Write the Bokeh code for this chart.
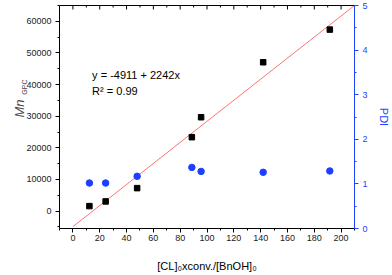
import math
from bokeh.plotting import figure
from bokeh.models import Range1d, LinearAxis, Label, SingleIntervalTicker, FixedTicker, Title
from bokeh.embed import file_html
from bokeh.resources import INLINE

# ---- data ----
conv_x = [12.3, 24.4, 47.9, 88.7, 95.6, 141.9, 191.6]      # [CL]0 x conv./[BnOH]0
mn_gpc = [1580, 3060, 7260, 23370, 29680, 47050, 57380]    # Mn (GPC)
pdi = [1.02, 1.02, 1.17, 1.37, 1.28, 1.26, 1.29]           # PDI
fit_intercept = -4911
fit_slope = 333            # slope of the drawn red line in plot units
fit_x = [0, 210]
fit_y = [fit_intercept + fit_slope * v for v in fit_x]
eq_text = "y = -4911 + 2242x"
r2_text = "R\u00b2 = 0.99"
x_title = "[CL]\u2080xconv./[BnOH]\u2080"

X_RANGE = (-10, 210)
Y_RANGE = (-5500, 65000)
PDI_RANGE = (0, 5)
X_STEP, Y_STEP, PDI_STEP = 20, 10000, 1

FONT = "Liberation Sans"
BLUE = "#2244ff"
PT_BLUE = "#1f3fff"

W, H = 392, 275
BL, BR, BT, BB = 59, 30, 5, 47
FL, FR, FT, FB = BL, W - BR, BT, H - BB


def px2x(px):
    return X_RANGE[0] + (px - FL) / (FR - FL) * (X_RANGE[1] - X_RANGE[0])


def py2y(py):
    return Y_RANGE[1] - (py - FT) / (FB - FT) * (Y_RANGE[1] - Y_RANGE[0])


p = figure(width=W, height=H, x_range=Range1d(*X_RANGE), y_range=Range1d(*Y_RANGE),
           output_backend="svg", toolbar_location=None,
           min_border_left=BL, min_border_right=BR, min_border_top=BT, min_border_bottom=BB)
p.extra_y_ranges = {"pdi": Range1d(*PDI_RANGE)}
p.outline_line_color = None
p.xgrid.visible = False
p.ygrid.visible = False
p.background_fill_color = "white"
p.border_fill_color = "white"


def style(ax, color="black", standoff=3):
    ax.axis_line_color = color
    ax.axis_line_width = 1
    ax.major_tick_line_color = color
    ax.minor_tick_line_color = color
    ax.major_tick_out, ax.major_tick_in = 4, 0
    ax.minor_tick_out, ax.minor_tick_in = 2, 0
    ax.major_label_text_font = FONT
    ax.major_label_text_font_size = "9px"
    ax.major_label_text_color = "#222222" if color == "black" else color
    ax.major_label_standoff = standoff


xb = p.xaxis[0]
xb.ticker = SingleIntervalTicker(interval=X_STEP, num_minor_ticks=2)
style(xb, standoff=2)
xb.axis_label = x_title
xb.axis_label_text_font = FONT
xb.axis_label_text_font_size = "11px"
xb.axis_label_text_font_style = "normal"
xb.axis_label_text_color = "black"
xb.axis_label_standoff = 16

yl = p.yaxis[0]
yl.ticker = SingleIntervalTicker(interval=Y_STEP, num_minor_ticks=2)
style(yl, standoff=4)
yl.axis_label = None

# top frame line (ticks drawn below as short inward rays)
top = LinearAxis(ticker=FixedTicker(ticks=[], minor_ticks=[]))
top.axis_line_color = "black"
top.major_label_text_font_size = "9px"
p.add_layout(top, "above")

right = LinearAxis(y_range_name="pdi", ticker=SingleIntervalTicker(interval=PDI_STEP, num_minor_ticks=2))
style(right, color=BLUE, standoff=4)
right.axis_label = "PDI"
right.axis_label_text_font = FONT
right.axis_label_text_font_size = "11px"
right.axis_label_text_font_style = "normal"
right.axis_label_text_color = BLUE
right.axis_label_standoff = 7
p.add_layout(right, "right")

# y-axis title: Mn with subscript GPC, as two stacked side titles
t_gpc = Title(text="GPC", text_font=FONT, text_font_size="7px", text_font_style="normal",
              align="right", offset=74, standoff=-8, vertical_align="bottom")
p.add_layout(t_gpc, "left")
t_mn = Title(text="Mn", text_font=FONT, text_font_size="13px", text_font_style="italic",
             align="right", offset=94, standoff=-8, vertical_align="bottom")
p.add_layout(t_mn, "left")

# ---- marks ----
top_major = list(range(0, X_RANGE[1] + 1, X_STEP))
top_minor = list(range(X_RANGE[0], X_RANGE[1] + 1, X_STEP))
p.ray(x=top_major, y=[Y_RANGE[1]] * len(top_major), length=4, length_units="screen",
      angle=-math.pi / 2, line_color="black", line_width=1)
p.ray(x=top_minor, y=[Y_RANGE[1]] * len(top_minor), length=2, length_units="screen",
      angle=-math.pi / 2, line_color="black", line_width=1)

p.line(fit_x, fit_y, line_color="#ff7373", line_width=1)
p.scatter(conv_x, mn_gpc, marker="square", size=5.5, color="black")
p.scatter(conv_x, pdi, y_range_name="pdi", marker="circle", size=6.5, color=PT_BLUE)

# ---- in-plot texts ----
for py, txt in ((74, eq_text), (90, r2_text)):
    p.add_layout(Label(x=px2x(92.5), y=py2y(py), text=txt, text_font=FONT,
                       text_font_size="11px", text_color="black",
                       text_align="left", text_baseline="middle"))

open("out.html", "w").write(file_html(p, INLINE))
